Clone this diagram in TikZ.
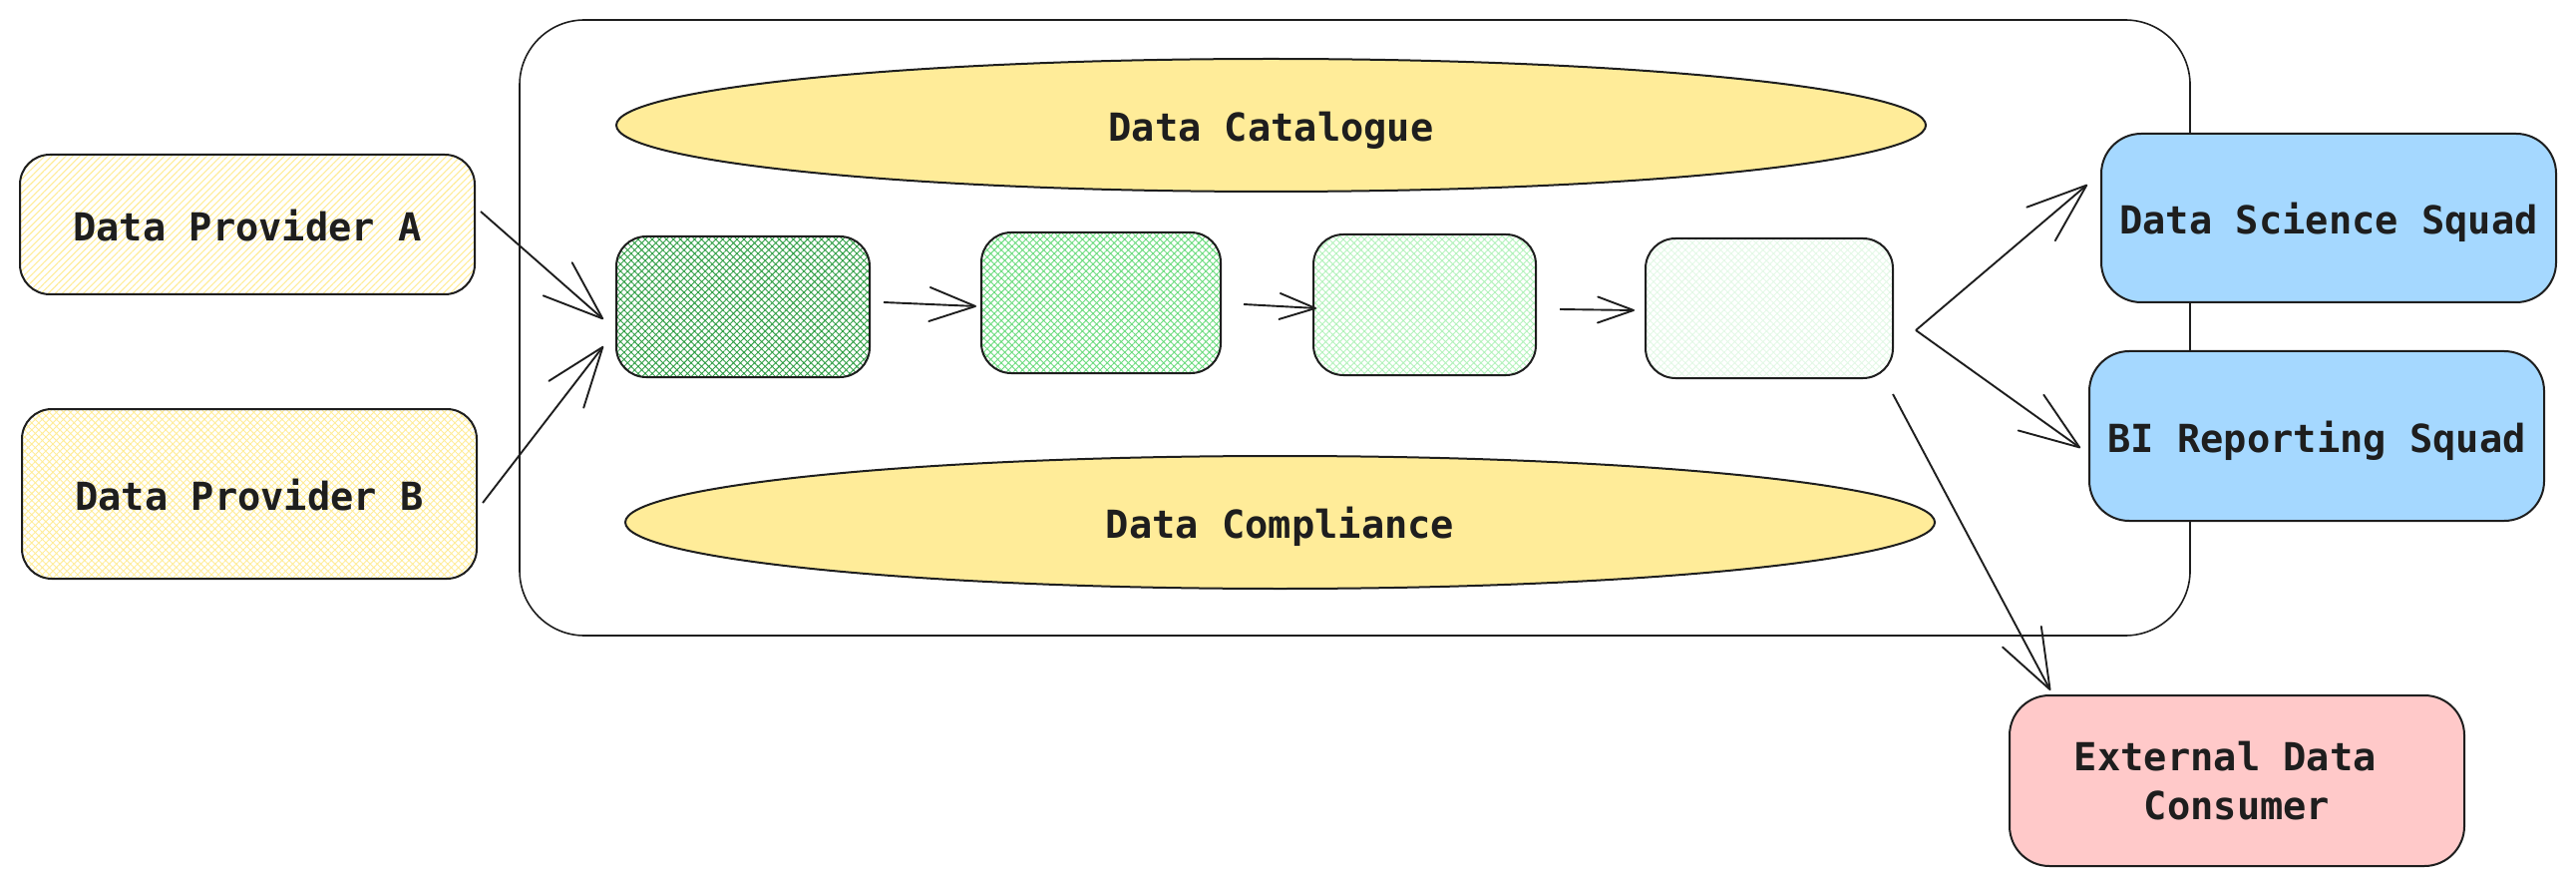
\documentclass[tikz,border=0pt]{standalone}
\usepackage{fontspec}
\setmonofont{DejaVu Sans Mono}
\usetikzlibrary{arrows.meta,patterns.meta,shapes.geometric,calc}
\definecolor{ink}{HTML}{1E1E1E}
\definecolor{yel}{HTML}{FFEC99}
\definecolor{gA}{HTML}{2F9E44}
\definecolor{gB}{HTML}{69DB7C}
\definecolor{gC}{HTML}{B2F2BB}
\definecolor{gD}{HTML}{E3F8E6}
\definecolor{blu}{HTML}{A5D8FF}
\definecolor{pnk}{HTML}{FFC9C9}
\begin{document}
\begin{tikzpicture}[x=0.5pt,y=-0.5pt,
  lbl/.style={font=\ttfamily\bfseries\fontsize{19.35}{24.2}\selectfont, text=ink},
  onel/.style={lbl, text height=19.4pt, text depth=3.3pt},
  boxs/.style={draw=ink, line width=1pt, rounded corners=15pt, inner sep=0pt, outer sep=0pt},
  boxl/.style={draw=ink, line width=1pt, rounded corners=20pt, inner sep=0pt, outer sep=0pt},
  ell/.style={ellipse, draw=ink, line width=1pt, fill=yel, inner sep=0pt, outer sep=0pt, minimum width=656.5pt, minimum height=66.5pt},
  hatchA/.style={pattern={Lines[angle=45,distance=2.5pt,line width=0.55pt]}, pattern color=yel},
  cross/.style={pattern={Hatch[angle=45,distance=2.5pt,line width=0.45pt]}, pattern color=#1},
  arrbig/.style={draw=ink, line width=0.95pt, -{Straight Barb[length=30pt,width=22pt,round]}},
  arrmid/.style={draw=ink, line width=0.95pt, -{Straight Barb[length=23pt,width=17pt,round]}},
  arrsmall/.style={draw=ink, line width=0.95pt, -{Straight Barb[length=18pt,width=13pt,round]}}]
\useasboundingbox (0,0) rectangle (2583,887);
% container
\node[draw=ink, line width=0.8pt, rounded corners=32.5pt, inner sep=0pt, minimum width=837.5pt, minimum height=308.5pt] (cont) at (1358.5,328.5) {};
% ellipses
\node[ell, onel] (cat) at (1274.5,125.5) {Data Catalogue};
\node[ell, onel] (comp) at (1283.5,523.5) {Data Compliance};
% providers
\node[boxs, hatchA, onel, minimum width=228pt, minimum height=70pt] (pa) at (248,225) {Data Provider A};
\node[boxs, cross=yel, onel, minimum width=228pt, minimum height=85pt] (pb) at (250,495) {Data Provider B};
% pipeline boxes
\node[boxs, cross=gA, minimum width=127pt, minimum height=70.5pt] (b1) at (745,307.5) {};
\node[boxs, cross=gB, minimum width=120pt, minimum height=70.5pt] (b2) at (1104,303.5) {};
\node[boxs, cross=gC, minimum width=111.5pt, minimum height=70.5pt] (b3) at (1428.5,305.5) {};
\node[boxs, cross=gD, minimum width=124pt, minimum height=70pt] (b4) at (1774,309) {};
% consumers
\node[boxl, fill=blu, onel, minimum width=228pt, minimum height=84.5pt] (ds) at (2335,218.5) {Data Science Squad};
\node[boxl, fill=blu, onel, minimum width=228pt, minimum height=85pt] (bi) at (2323,437) {BI Reporting Squad};
\node[boxl, fill=pnk, lbl, align=center, minimum width=228pt, minimum height=85.5pt] (ext) at (2243,782.5) {External Data\phantom{a}\\Consumer};
% connectors
\draw[arrbig] ([shift={(6,-13)}]pa.east) -- ([shift={(-13,12.5)}]b1.west);
\draw[arrbig] ([shift={(6,9)}]pb.east) -- ([shift={(-13,39.5)}]b1.west);
\draw[arrmid] ([shift={(14,-4.5)}]b1.east) -- ([shift={(-5,3.5)}]b2.west);
\draw[arrsmall] ([shift={(23,1.5)}]b2.east) -- ([shift={(3,3.5)}]b3.west);
\draw[arrsmall] ([shift={(24,4.5)}]b3.east) -- ([shift={(-11,2)}]b4.west);
\draw[arrbig] ([shift={(23,22)}]b4.east) -- ([shift={(-14,-33.5)}]ds.west);
\draw[arrbig] ([shift={(23,22)}]b4.east) -- ([shift={(-9,12)}]bi.west);
\draw[arrbig] ([shift={(0,16)}]b4.south east) -- ([shift={(41,-5)}]ext.north west);
\end{tikzpicture}
\end{document}
